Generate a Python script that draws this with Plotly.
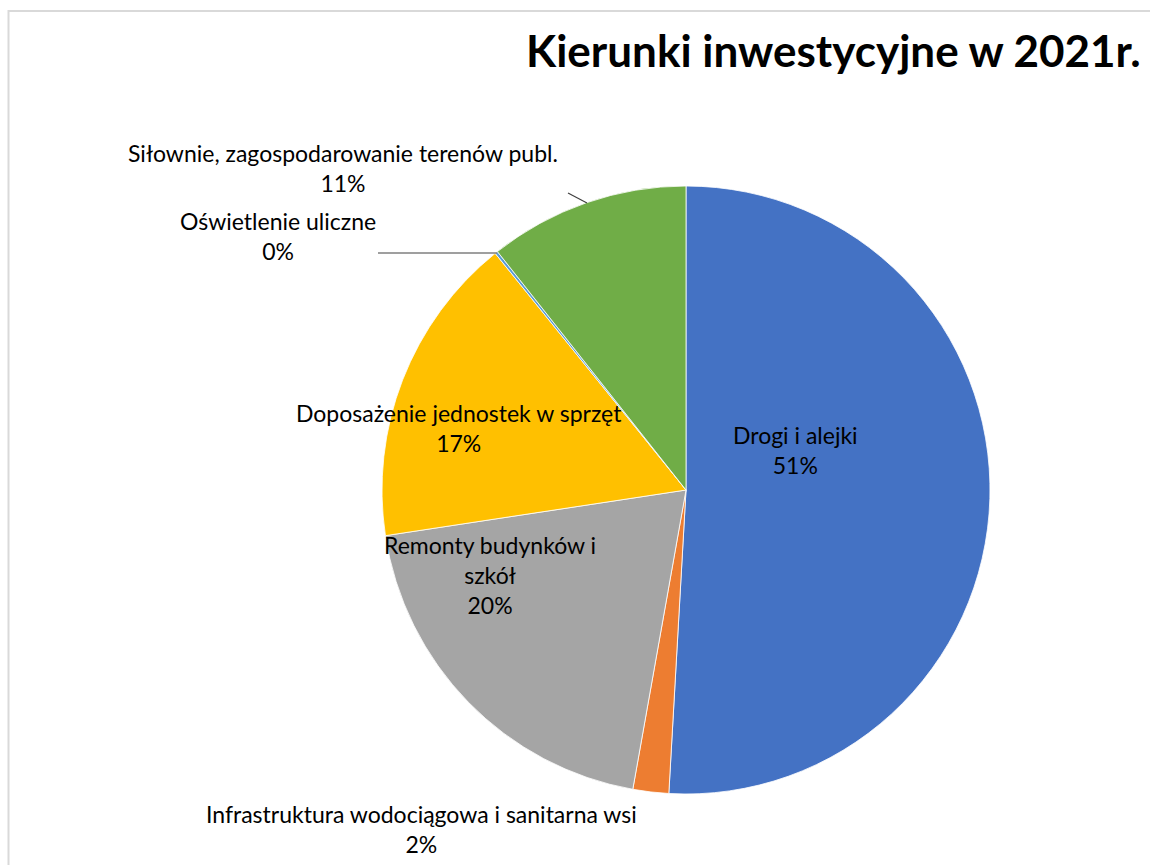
import plotly.graph_objects as go

W, H = 1150, 865

labels = [
    "Drogi i alejki",
    "Infrastruktura wodociągowa i sanitarna wsi",
    "Remonty budynków i szkół",
    "Doposażenie jednostek w sprzęt",
    "Oświetlenie uliczne",
    "Siłownie, zagospodarowanie terenów publ.",
]
label_lines = [
    ["Drogi i alejki"],
    ["Infrastruktura wodociągowa i sanitarna wsi"],
    ["Remonty budynków i", "szkół"],
    ["Doposażenie jednostek w sprzęt"],
    ["Oświetlenie uliczne"],
    ["Siłownie, zagospodarowanie terenów publ."],
]
values = [50.9, 1.9, 19.8, 16.6, 0.15, 10.65]
colors = ["#4472C4", "#ED7D31", "#A5A5A5", "#FFC000", "#5B9BD5", "#70AD47"]

# label block centres in pixels (layout only)
label_pos = [(795, 450), (421, 829), (490, 575), (459, 428), (278, 236), (343, 168)]

FONT = "Lato"
total = sum(values)

fig = go.Figure()
fig.add_trace(go.Pie(
    labels=labels,
    values=values,
    sort=False,
    direction="clockwise",
    rotation=0,
    textinfo="none",
    hoverinfo="label+percent",
    marker=dict(colors=colors, line=dict(color="white", width=0.8)),
    showlegend=False,
    domain=dict(x=[382 / W, 990 / W], y=[(H - 794) / H, (H - 186) / H]),
))

annotations = []
for lines, v, (px, py) in zip(label_lines, values, label_pos):
    pct = round(100 * v / total)
    text = "<br>".join(lines + [f"{pct}%"])
    annotations.append(dict(
        x=px / W, y=1 - py / H, xref="paper", yref="paper",
        xanchor="center", yanchor="middle", showarrow=False,
        text=text, align="center",
        font=dict(family=FONT, size=23, color="#000000"),
    ))

annotations.append(dict(
    x=1143 / W, y=1 - 50 / H, xref="paper", yref="paper",
    xanchor="right", yanchor="middle", showarrow=False,
    text="<b>Kierunki inwestycyjne w 2021r.</b>",
    font=dict(family=FONT, size=44, color="#000000"),
))

shapes = [
    dict(type="rect", xref="paper", yref="paper",
         x0=8.5 / W, x1=1.2, y0=-0.2, y1=1 - 11 / H,
         line=dict(color="#D9D9D9", width=2), fillcolor="rgba(0,0,0,0)"),
    dict(type="line", xref="paper", yref="paper",
         x0=378 / W, x1=497 / W, y0=1 - 253 / H, y1=1 - 253 / H,
         line=dict(color="#7F7F7F", width=1.3)),
    dict(type="line", xref="paper", yref="paper",
         x0=568 / W, x1=587 / W, y0=1 - 193 / H, y1=1 - 203 / H,
         line=dict(color="#404040", width=1.2)),
]

fig.update_layout(
    width=W, height=H,
    margin=dict(l=0, r=0, t=0, b=0),
    paper_bgcolor="white",
    plot_bgcolor="white",
    annotations=annotations,
    shapes=shapes,
)

fig.write_html("out.html")
